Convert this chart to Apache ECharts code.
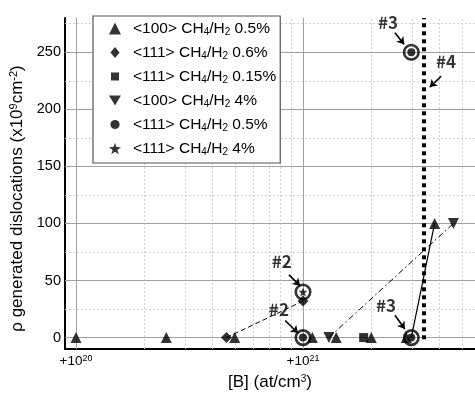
<!DOCTYPE html>
<html>
<head>
<meta charset="utf-8">
<script src="https://cdn.jsdelivr.net/npm/echarts@6/dist/echarts.min.js"></script>
<style>
  html, body { margin: 0; padding: 0; background: #fff; }
  #main { width: 475px; height: 396px; }
</style>
</head>
<body>
<div id="main"></div>
<script>
// boron concentration [B] (at/cm3) and generated dislocations (x1e9 cm-2)
var tri100_05_x = [1.0e20, 2.5e20, 5.0e20, 1.1e21, 1.4e21, 2.0e21, 2.85e21, 3.8e21];
var tri100_05_y = [0, 0, 0, 0, 0, 0, 0, 100];
var dia111_06_x = [4.6e20, 1.0e21];
var dia111_06_y = [0, 32];
var sq111_015_x = [1.85e21];
var sq111_015_y = [0];
var dn100_4_x = [1.3e21, 4.6e21];
var dn100_4_y = [0, 100];
var cir111_05_x = [1.0e21, 3.0e21, 3.0e21];
var cir111_05_y = [0, 0, 250];
var star111_4_x = [1.0e21];
var star111_4_y = [40];

// highlighted (ringed) samples
var ringX = [1.0e21, 1.0e21, 3.0e21, 3.0e21];
var ringY = [40, 0, 0, 250];

// guide lines between points
var dashedX = [4.6e20, 1.0e21], dashedY = [0, 32];
var dashDotX = [1.3e21, 4.6e21], dashDotY = [0, 100];
var solidX = [3.0e21, 3.8e21], solidY = [0, 100];

// #4 limit
var limitX = 3.4e21;

// annotations: text position and arrow start/end
var noteText = ['#2', '#2', '#3', '#4', '#3'];
var noteX = [8.07e20, 7.83e20, 2.37e21, 4.27e21, 2.32e21];
var noteY = [67, 25, 276, 242, 28];
var arrowFromX = [8.67e20, 8.34e20, 2.54e21, 4.06e21, 2.54e21];
var arrowFromY = [55, 15, 267, 229, 19.5];
var arrowToX = [9.7e20, 9.5e20, 2.79e21, 3.62e21, 2.81e21];
var arrowToY = [45.5, 4, 257, 219.5, 7.5];

var xTickLabels = [1e20, 1e21];
var yTickLabels = [0, 50, 100, 150, 200, 250];

var FONT = 'Liberation Sans';
var lg = Math.log10;

function pts(xs, ys) {
  return xs.map(function (x, i) { return [lg(x), ys[i]]; });
}

var STAR = 'path://M0,-10 L2.35,-3.24 L9.51,-3.09 L3.8,1.24 L5.88,8.09 L0,4 L-5.88,8.09 L-3.8,1.24 L-9.51,-3.09 L-2.35,-3.24 Z';
var DOWN = 'path://M0,9 L-10,-8 L10,-8 Z';
// smaller legend icons (padded bounding box)
var ICON_SQ = 'path://M-6,-6 M6,6 M-4,-4 L4,-4 L4,4 L-4,4 Z';
var ICON_CIR = 'path://M-6,-6 M6,6 M4.6,0 A4.6,4.6 0 1,1 -4.6,0 A4.6,4.6 0 1,1 4.6,0 Z';
var ICON_DIA = 'path://M-6,-6 M6,6 M0,-5.5 L4.6,0 L0,5.5 L-4.6,0 Z';

// grid lines (log minors on x)
var gridLines = [];
[20, 21].forEach(function (p) {
  gridLines.push({ xAxis: p, lineStyle: { color: '#a0a0a0', width: 1, type: 'solid' } });
  for (var k = 2; k <= 9; k++) {
    var v = p + lg(k);
    if (v < 21.757) gridLines.push({ xAxis: v, lineStyle: { color: '#cfcfcf', width: 1, type: [2, 2] } });
  }
});
for (var y = 0; y <= 275; y += 25) {
  if (y % 50 === 0) gridLines.push({ yAxis: y, lineStyle: { color: '#a0a0a0', width: 1, type: 'solid' } });
  else gridLines.push({ yAxis: y, lineStyle: { color: '#cfcfcf', width: 1, type: [2, 2] } });
}

var arrows = noteText.map(function (t, i) {
  return [{ coord: [lg(arrowFromX[i]), arrowFromY[i]] }, { coord: [lg(arrowToX[i]), arrowToY[i]] }];
});

var subRich = {
  sub: { fontSize: 10, fontFamily: FONT, color: '#000', verticalAlign: 'bottom', lineHeight: 8 }
};

function legendLabel(name) {
  return name.replace('CH4', 'CH{sub|4}').replace('H2', 'H{sub|2}');
}

var names = ['<100> CH4/H2 0.5%', '<111> CH4/H2 0.6%', '<111> CH4/H2 0.15%',
             '<100> CH4/H2 4%', '<111> CH4/H2 0.5%', '<111> CH4/H2 4%'];

var chart = echarts.init(document.getElementById('main'));
var option = {
  animation: false,
  backgroundColor: '#fff',
  grid: { left: 65, right: 0, top: 18, bottom: 44 },
  legend: {
    orient: 'vertical',
    left: 93,
    top: 16,
    data: [
      { name: names[0] },
      { name: names[1], icon: ICON_DIA },
      { name: names[2], icon: ICON_SQ },
      { name: names[3] },
      { name: names[4], icon: ICON_CIR },
      { name: names[5] }
    ],
    itemWidth: 12,
    itemHeight: 12,
    itemGap: 7,
    padding: [4, 4, 6, 16],
    backgroundColor: '#fff',
    borderColor: '#555',
    borderWidth: 1.2,
    borderRadius: 0,
    formatter: legendLabel,
    textStyle: { fontFamily: FONT, fontSize: 15.5, color: '#000', lineHeight: 17, padding: [0, 0, 0, 7], rich: subRich }
  },
  xAxis: {
    type: 'value',
    min: 19.9515,
    max: 21.7577,
    name: '[B] (at/cm{sup|3})',
    nameLocation: 'middle',
    nameGap: 25,
    nameTextStyle: { fontFamily: FONT, fontSize: 17, color: '#000',
      rich: { sup: { fontSize: 10, fontFamily: FONT, color: '#000', verticalAlign: 'top', lineHeight: 8 } } },
    axisLine: { onZero: false, lineStyle: { color: '#000', width: 2 } },
    axisTick: { show: false },
    splitLine: { show: false },
    axisLabel: {
      customValues: xTickLabels.map(lg),
      margin: 5,
      fontFamily: FONT,
      fontSize: 13.5,
      color: '#000',
      formatter: function (v) { return '+10{s|' + Math.round(v) + '}'; },
      rich: { s: { fontSize: 9, fontFamily: FONT, color: '#000', verticalAlign: 'top', lineHeight: 8 } }
    }
  },
  yAxis: {
    type: 'value',
    min: -10,
    max: 280,
    name: 'ρ generated dislocations (x10{sup|9}cm{sup|-2})',
    nameLocation: 'middle',
    nameGap: 33,
    nameRotate: 90,
    nameTextStyle: { fontFamily: FONT, fontSize: 17, color: '#000', padding: [0, 30, 0, 0],
      rich: { sup: { fontSize: 11, fontFamily: FONT, color: '#000', verticalAlign: 'top', lineHeight: 8 } } },
    axisLine: { onZero: false, lineStyle: { color: '#000', width: 2 } },
    axisTick: { show: false },
    splitLine: { show: false },
    axisLabel: {
      customValues: yTickLabels,
      margin: 4,
      fontFamily: FONT,
      fontSize: 14.5,
      color: '#000'
    }
  },
  series: [
    {
      type: 'line', data: [], silent: true,
      markLine: { silent: true, z: 1, symbol: 'none', label: { show: false }, data: gridLines }
    },
    {
      type: 'line', data: [], silent: true,
      markLine: {
        silent: true, z: 3, symbol: 'none', label: { show: false },
        lineStyle: { color: '#000', width: 4, type: [4, 4] },
        data: [[{ coord: [lg(limitX), -1.5] }, { coord: [lg(limitX), 280] }]]
      }
    },
    {
      type: 'line', data: pts(dashedX, dashedY), showSymbol: false, silent: true,
      lineStyle: { color: '#000', width: 1, type: [5, 3] }
    },
    {
      type: 'line', data: pts(dashDotX, dashDotY), showSymbol: false, silent: true,
      lineStyle: { color: '#000', width: 1, type: [6, 3, 1.5, 3] }
    },
    {
      type: 'line', data: pts(solidX, solidY), showSymbol: false, silent: true,
      lineStyle: { color: '#000', width: 1.2 }
    },
    { name: names[0], type: 'scatter', data: pts(tri100_05_x, tri100_05_y), symbol: 'triangle', symbolSize: 11, itemStyle: { color: '#000' }, z: 4 },
    { name: names[1], type: 'scatter', data: pts(dia111_06_x, dia111_06_y), symbol: 'diamond', symbolSize: 11, itemStyle: { color: '#000' }, z: 4 },
    { name: names[2], type: 'scatter', data: pts(sq111_015_x, sq111_015_y), symbol: 'rect', symbolSize: 9, itemStyle: { color: '#000' }, z: 4 },
    { name: names[3], type: 'scatter', data: pts(dn100_4_x, dn100_4_y), symbol: DOWN, symbolSize: 11, itemStyle: { color: '#000' }, z: 4 },
    { name: names[4], type: 'scatter', data: pts(cir111_05_x, cir111_05_y), symbol: 'circle', symbolSize: 8, itemStyle: { color: '#000' }, z: 4 },
    { name: names[5], type: 'scatter', data: pts(star111_4_x, star111_4_y), symbol: STAR, symbolSize: 9, itemStyle: { color: '#000' }, z: 4 },
    {
      type: 'scatter', data: pts(ringX, ringY), symbol: 'circle', symbolSize: 14.5, silent: true, z: 4,
      itemStyle: { color: 'rgba(0,0,0,0)', borderColor: '#000', borderWidth: 2.6 }
    },
    {
      type: 'scatter', silent: true, symbolSize: 0, z: 6,
      data: noteText.map(function (t, i) { return { name: t, value: [lg(noteX[i]), noteY[i]] }; }),
      label: {
        show: true, position: 'inside', formatter: '{b}',
        fontFamily: 'Noto Sans CJK JP', fontWeight: 'bold', fontSize: 17, color: '#000'
      },
      markLine: {
        silent: true, z: 6, symbol: ['none', 'arrow'], symbolSize: 7,
        label: { show: false },
        lineStyle: { color: '#000', width: 1.6, type: 'solid' },
        data: arrows
      }
    }
  ]
};
chart.setOption(option);
</script>
</body>
</html>
